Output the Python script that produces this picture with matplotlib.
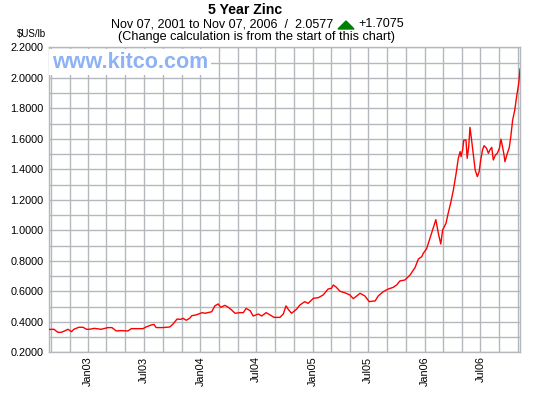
import numpy as np
import pandas as pd
import matplotlib
matplotlib.use('Agg')
import matplotlib.pyplot as plt
import matplotlib.dates as mdates
from matplotlib.patches import Polygon
from matplotlib.ticker import MultipleLocator, FormatStrFormatter

# zinc price, $US/lb
dates = ['2002-08-27', '2002-09-11', '2002-09-24', '2002-10-05', '2002-10-16',
         '2002-10-27', '2002-11-07', '2002-11-15', '2002-12-01', '2002-12-15',
         '2002-12-26', '2003-01-05', '2003-01-21', '2003-02-12', '2003-03-06',
         '2003-03-19', '2003-04-02', '2003-04-18', '2003-05-10', '2003-05-21',
         '2003-06-11', '2003-06-28', '2003-07-08', '2003-07-25', '2003-08-03',
         '2003-08-10', '2003-09-01', '2003-09-23', '2003-10-03', '2003-10-17',
         '2003-10-29', '2003-11-05', '2003-11-16', '2003-11-27', '2003-12-04',
         '2003-12-18', '2004-01-07', '2004-01-16', '2004-02-07', '2004-02-17',
         '2004-02-28', '2004-03-07', '2004-03-21', '2004-04-01', '2004-04-12',
         '2004-04-23', '2004-05-09', '2004-05-20', '2004-05-29', '2004-06-11',
         '2004-06-21', '2004-07-08', '2004-07-19', '2004-08-02', '2004-08-15',
         '2004-08-28', '2004-09-16', '2004-09-27', '2004-10-06', '2004-10-13',
         '2004-10-24', '2004-11-09', '2004-11-20', '2004-12-06', '2004-12-17',
         '2005-01-03', '2005-01-19', '2005-02-04', '2005-02-20', '2005-03-03',
         '2005-03-09', '2005-03-17', '2005-03-31', '2005-04-16', '2005-05-02',
         '2005-05-13', '2005-05-24', '2005-06-04', '2005-06-20', '2005-07-04',
         '2005-07-17', '2005-07-23', '2005-08-02', '2005-08-19', '2005-09-04',
         '2005-09-20', '2005-10-01', '2005-10-12', '2005-10-28', '2005-11-14',
         '2005-11-30', '2005-12-11', '2005-12-22', '2005-12-27', '2006-01-07',
         '2006-01-18', '2006-01-29', '2006-02-06', '2006-02-14', '2006-02-22',
         '2006-02-28', '2006-03-11', '2006-03-18', '2006-03-26', '2006-04-04',
         '2006-04-13', '2006-04-20', '2006-04-26', '2006-04-29', '2006-05-04',
         '2006-05-08', '2006-05-15', '2006-05-19', '2006-05-24', '2006-05-28',
         '2006-06-01', '2006-06-08', '2006-06-14', '2006-06-21', '2006-06-27',
         '2006-07-02', '2006-07-08', '2006-07-13', '2006-07-21', '2006-07-27',
         '2006-08-01', '2006-08-07', '2006-08-12', '2006-08-19', '2006-08-25',
         '2006-09-01', '2006-09-06', '2006-09-10', '2006-09-15', '2006-09-19',
         '2006-09-25', '2006-10-03', '2006-10-08', '2006-10-14', '2006-10-21',
         '2006-10-27', '2006-11-03', '2006-11-07']
prices = [0.350, 0.351, 0.331, 0.331, 0.340,
          0.351, 0.335, 0.351, 0.364, 0.364,
          0.351, 0.351, 0.357, 0.351, 0.362,
          0.362, 0.340, 0.342, 0.340, 0.355,
          0.355, 0.355, 0.366, 0.379, 0.383,
          0.362, 0.362, 0.366, 0.383, 0.418,
          0.416, 0.423, 0.410, 0.423, 0.440,
          0.445, 0.460, 0.456, 0.466, 0.504,
          0.517, 0.495, 0.508, 0.495, 0.477,
          0.456, 0.460, 0.460, 0.488, 0.473,
          0.438, 0.451, 0.438, 0.460, 0.445,
          0.429, 0.429, 0.451, 0.504, 0.482,
          0.456, 0.482, 0.510, 0.532, 0.521,
          0.554, 0.558, 0.576, 0.615, 0.620,
          0.641, 0.630, 0.600, 0.590, 0.576,
          0.552, 0.569, 0.587, 0.569, 0.532,
          0.536, 0.536, 0.569, 0.598, 0.615,
          0.626, 0.641, 0.668, 0.674, 0.707,
          0.755, 0.812, 0.827, 0.849, 0.880,
          0.950, 1.020, 1.070, 0.980, 0.910,
          1.002, 1.046, 1.111, 1.177, 1.264,
          1.374, 1.472, 1.516, 1.483, 1.527,
          1.592, 1.592, 1.472, 1.549, 1.675,
          1.614, 1.494, 1.396, 1.352, 1.385,
          1.461, 1.527, 1.555, 1.538, 1.505,
          1.527, 1.544, 1.461, 1.494, 1.505,
          1.538, 1.597, 1.560, 1.505, 1.450,
          1.494, 1.542, 1.614, 1.723, 1.789,
          1.877, 1.964, 2.0577]

title = '5 Year Zinc'
subtitle = 'Nov 07, 2001 to Nov 07, 2006  /  2.0577'
change = '+1.7075'
note = '(Change calculation is from the start of this chart)'
unit = '$US/lb'
watermark = 'www.kitco.com'

W, H = 535, 394
grid_col = '#b4b8bc'
font = 'Liberation Sans'

fig = plt.figure(figsize=(W / 100, H / 100), dpi=100)
fig.patch.set_facecolor('white')
ax = fig.add_axes([49.3 / W, 1 - 352.3 / H, (520 - 49.3) / W, (352.3 - 47.3) / H])

x = pd.to_datetime(dates)
ax.plot(x, prices, color='#ff0000', lw=1.0, zorder=3)

ax.set_xlim(pd.Timestamp('2002-08-27'), pd.Timestamp('2006-11-07'))
ax.set_ylim(0.2, 2.2)

ax.xaxis.set_major_locator(mdates.MonthLocator(bymonth=[1, 7]))
ax.xaxis.set_major_formatter(mdates.DateFormatter('%b%y'))
ax.xaxis.set_minor_locator(mdates.MonthLocator(bymonth=[1, 3, 5, 7, 9, 11]))
ax.yaxis.set_major_locator(MultipleLocator(0.2))
ax.yaxis.set_minor_locator(MultipleLocator(0.1))
ax.yaxis.set_major_formatter(FormatStrFormatter('%.4f'))

ax.grid(which='both', color=grid_col, lw=1.0)
ax.set_axisbelow(True)
for s in ax.spines.values():
    s.set_color(grid_col)
    s.set_linewidth(1.0)

ax.tick_params(which='both', length=0)
ax.tick_params(axis='y', pad=4, labelsize=7.8)
ax.tick_params(axis='x', pad=3, labelsize=7.8, labelrotation=90)
for lab in ax.get_xticklabels() + ax.get_yticklabels():
    lab.set_family(font)

# header texts
fig.text(245.5 / W, 1 - 9.5 / H, title, ha='center', va='center',
         fontsize=10.2, fontweight='bold', family=font)
fig.text(333 / W, 1 - 24.3 / H, subtitle, ha='right', va='center',
         fontsize=9, family=font)
fig.add_artist(Polygon([[338 / W, 1 - 29 / H], [354 / W, 1 - 29 / H], [346 / W, 1 - 21 / H]],
                       closed=True, transform=fig.transFigure, color='#008000'))
fig.text(358 / W, 1 - 24.3 / H, change, ha='left', va='center',
         fontsize=9, family=font)
fig.text(257 / W, 1 - 36.7 / H, note, ha='center', va='center',
         fontsize=9.1, family=font)
fig.text(17 / W, 1 - 34 / H, unit, ha='left', va='center',
         fontsize=7, family=font)

ax.text(52 / W, 1 - 62 / H, watermark, transform=fig.transFigure,
        ha='left', va='center', fontsize=15.5, fontweight='bold', family=font,
        color='#8db2f5', zorder=4,
        bbox=dict(facecolor='white', edgecolor='none', pad=2))

fig.savefig('out.png', dpi=100)
